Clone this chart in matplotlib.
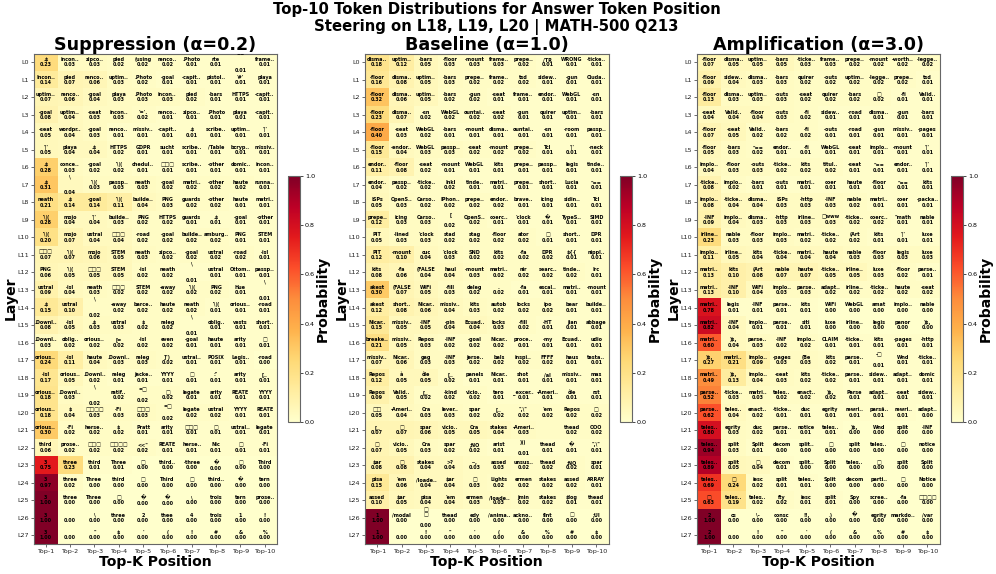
import matplotlib
matplotlib.use("Agg")
import matplotlib.pyplot as plt
import numpy as np

B = "\u25a1"
R = "\ufffd"
S = "\\\n\n"
layers = [f"L{i}" for i in range(28)]
positions = [f"Top-{i}" for i in range(1, 11)]
panel_titles = ["Suppression (\u03b1=0.2)", "Baseline (\u03b1=1.0)", "Amplification (\u03b1=3.0)"]
suptitle = "Top-10 Token Distributions for Answer Token Position\nSteering on L18, L19, L20 | MATH-500 Q213"

sup_tokens = [
 [".$","incon..","zipco..","pled","(using","renco..",".Photo","rte","~~\n\n","frame.."],
 ["Incon..","pled","renco..","uptim..",".Photo","-goal","-capit..","pistol..","'#'","playa"],
 ["uptim..","renco..","-goal","playa",".Photo","incon..","pled","-bars","HTTPS","-capit.."],
 ["-goal","uptim..","-seat","incon..","'='.","renco..","zipco..",".Photo","playa","-capit.."],
 ["-seat","wordpr..","-goal","renco..","missiv..","-capit..",".$","scribe..","uptim..","'|'"],
 ["'|'","playa",".$","HTTPS","GDPR","sucht","scribe..","/Table","bcryp..","missiv.."],
 [".$","conce..","-goal","'\\|(","chedul..",B*3,"scribe..","-other","domic..","incon.."],
 [".$",S,"'\\|(","passp..","neath","-goal","matri..","-other","haute","runna.."],
 ["neath",".$","-goal","'\\|(","builde..","PNG","guards","-other","haute","matri.."],
 ["'\\|(","mojo","'|'","builde..","PNG","HTTPS","guards",".$","-goal","-other"],
 ["'\\|(","mojo","ustral",B*3,"-road","-goal","builde..","amburg..","PNG","STEM"],
 [B*3,"'\\|(","mojo","STEM","neath","zipco..","-goal","ustral","-road","-isl"],
 ["PNG","'\\|(",B*3,"STEM","-isl","neath",S,"ustral","Ottom..","passp.."],
 ["ustral","-isl","neath",B*3,"STEM","-away","'\\|(","PNG","Hue",S],
 [".$","ustral",S,"-away","barce..","haute","neath","'\\|(","orious..","-road"],
 [".Downl..","-isl",".$","ustral","$","releg",S,"oblig..","vests","short.."],
 [".Downl..","oblig..","orious..","[=","-isl","even","-goal","haute","arity",B],
 ["orious..","-isl","haute",".Downl..","releg","]\")","ustral..","POSIX","Legis..","-road"],
 ["-isl","orious..",".Downl..","releg","jacke..","YYYY",B,":\"","arity","[.."],
 ["orious..",".Downl..",S,"ratif..","="+B+"\n",B,"legate","arity","REATE","YYYY"],
 ["orious..","$",B*4,"-Fi",B*3,"="+B+"\n","legate","ustral","YYYY","REATE"],
 ["orious..","-Fi","herse..","$","Pratt","arity",B*3,B,"ustral..","legate"],
 ["third","prose..",B*3,B*4,"<<\"","REATE","herse..","Nic",B,"-Fi"],
 ["3","three","third","Three",B,"third..","-three",R,B,"Third"],
 ["3","three","Three","third",B,"Third",B,"third..",R,"tern"],
 ["3","three","Three",B,R,R,"\\","trois","tern","prose.."],
 ["3","","\\","three","2","thee","4","trois","1","!"],
 ["3","","\"","$","'","(","!","#","&","%"],
]
sup_probs = [
 [.23,.03,.03,.02,.02,.02,.01,.01,.01,.01],
 [.14,.07,.06,.03,.02,.01,.01,.01,.01,.01],
 [.07,.06,.04,.03,.03,.03,.02,.01,.01,.01],
 [.08,.04,.03,.03,.02,.01,.01,.01,.01,.01],
 [.05,.04,.03,.01,.01,.01,.01,.01,.01,.01],
 [.05,.04,.04,.02,.01,.01,.01,.01,.01,.01],
 [.28,.03,.02,.02,.01,.01,.01,.01,.01,.01],
 [.31,.04,.03,.03,.03,.02,.02,.02,.02,.01],
 [.21,.14,.14,.11,.04,.03,.02,.02,.01,.01],
 [.28,.04,.04,.03,.02,.02,.01,.01,.01,.01],
 [.20,.07,.04,.04,.02,.02,.02,.02,.01,.01],
 [.07,.07,.06,.05,.03,.02,.02,.02,.02,.01],
 [.06,.05,.05,.05,.02,.02,.01,.01,.01,.01],
 [.09,.04,.03,.02,.02,.02,.02,.02,.01,.01],
 [.15,.10,.02,.02,.02,.02,.02,.01,.01,.01],
 [.08,.05,.03,.03,.02,.02,.01,.01,.01,.01],
 [.03,.02,.02,.02,.02,.02,.01,.01,.01,.01],
 [.24,.11,.04,.03,.03,.02,.01,.01,.01,.00],
 [.17,.05,.02,.01,.01,.01,.01,.01,.01,.01],
 [.18,.03,.02,.02,.02,.02,.01,.01,.01,.01],
 [.18,.04,.03,.03,.03,.02,.02,.02,.01,.01],
 [.30,.02,.02,.02,.01,.01,.01,.01,.01,.01],
 [.06,.02,.02,.02,.02,.01,.01,.01,.01,.01],
 [.75,.23,.01,.01,.00,.00,.00,.00,.00,.00],
 [.97,.02,.00,.00,.00,.00,.00,.00,.00,.00],
 [1.0,.00,.00,.00,.00,.00,.00,.00,.00,.00],
 [1.0,.00,.00,.00,.00,.00,.00,.00,.00,.00],
 [1.0,.00,.00,.00,.00,.00,.00,.00,.00,.00],
]

base_tokens = [
 ["disma..","uptim..","-bars","-floor","-mount","frame..","prepe..","/TR","WRONG","-ticke.."],
 ["-floor","disma..","uptim..","-bars","prepe..","frame..","tsd","sidew..","-gun","Ciuda.."],
 ["-floor","disma..","uptim..","-bars","-gun","-seat","frame..","endor..","WebGL","-sn"],
 ["-floor","disma..","-sn","WebGL","ountai..","-seat","-gun","quirer","uptim..","-bars"],
 ["-floor","-seat","WebGL","-bars","-mount","disma..","ountai..","-sn","-room","passp.."],
 ["-floor","-endor..","WebGL","passp..","-seat","-mount","prepe..","Tcl","'|'","-neck"],
 ["endor..","-floor","-seat","-mount","WebGL","kits","prepe..","passp..","legis","tinde.."],
 ["endor..","passp..","-ticke..","Inkl","tinde..","matri..","prepe..","short..","Lucia","\"=="],
 ["ISPs","OpenS..","Carso..","IPhon..","prepe..","endor..","brave..","icing","sidin..","Tcl"],
 ["prepe..","icing","Carso..","[\n","OpenS..","coerc..","'clock",R,"TypeS..","SIMD"],
 ["PIT","-lined","'clock","stad","stag","-floor","ator",B,"short..","DPR"],
 ["PIT","-mount","cuc","'clock","SND","kits","-fa","DPR","${{","nippl.."],
 ["kits","-fa","(FALSE","haul","-mount","matri..","nir","searc..","tinde..","Irc"],
 ["akest","(FALSE","WiFi","-fill","deleg",".","-fa","escal..","matri..","-mount"],
 ["akest","short..","Nicar..","missiv..","kits","autob","locks","ipo","bear","builde.."],
 ["Nicar..","missiv..","-INF","-pin","Ecuad..","locks","-fill","-HT","jian","abbage"],
 ["breake..","missiv..","Repos","-INF","-goal","Nicar..","proce..","-my","Ecuad..","udio"],
 ["missiv..","Nicar..","gag","-INF","jerse..","bals","inspi..","FFFF","haus","testa.."],
 ["Repos","\u00e0","\u00f4le","[..","panels","Nicar..","shot","/al","missiv..","mas"],
 ["Repos","Valid..","[..","-kind","vicio..","tero","_excer..","-Ameri..","\u00f4le","rst"],
 [B*2,"-Ameri..","Cra","lever..","spar","[..","\",\\\"","'em","Repos",B],
 ["[..",B,"spar","vicio..","Cra","stakes","-Ameri..",None,"thead","OOO"],
 [B,"vicio..","Cra","spar",";NO","arist",")))\n","thead",R,"\",\\\""],
 ["$ar",B,"stakes",">?","--,","assed","unsus..","thead",";NO","spar"],
 ["pisa","'em","/loade..","$ar",B,"Lights","ermen","stakes","assed","ARRAY"],
 ["assed","$ar","pisa","'em","ermen","/loade..","jmin","stakes","$log","thead"],
 ["1","/modal",B+"\n"+B+"\n","thead","edy","/anima..","ackno..","fint",B,";UI"],
 ["1","","!","\"","'","(","&","%","#","$"],
]
base_probs = [
 [.18,.12,.05,.03,.03,.03,.02,.01,.01,.01],
 [.16,.08,.05,.03,.02,.02,.02,.01,.01,.01],
 [.32,.06,.05,.02,.02,.01,.01,.01,.01,.01],
 [.23,.07,.02,.02,.02,.02,.01,.01,.01,.01],
 [.40,.03,.02,.01,.01,.01,.01,.01,.01,.01],
 [.15,.04,.03,.03,.02,.02,.02,.01,.01,.01],
 [.11,.08,.02,.01,.01,.01,.01,.01,.01,.01],
 [.04,.02,.02,.02,.01,.01,.01,.01,.01,.01],
 [.05,.03,.02,.02,.02,.02,.01,.01,.01,.01],
 [.12,.03,.03,.02,.02,.01,.01,.01,.01,.01],
 [.05,.03,.03,.02,.02,.02,.02,.01,.01,.01],
 [.12,.10,.04,.03,.02,.02,.02,.02,.01,.01],
 [.08,.06,.04,.04,.03,.02,.02,.02,.02,.01],
 [.30,.07,.05,.03,.02,.02,.01,.01,.01,.01],
 [.12,.08,.06,.04,.03,.02,.02,.02,.01,.01],
 [.15,.05,.05,.04,.04,.03,.02,.01,.01,.01],
 [.21,.05,.03,.02,.02,.02,.01,.01,.01,.01],
 [.07,.06,.03,.03,.02,.02,.02,.02,.01,.01],
 [.12,.05,.05,.02,.01,.01,.01,.01,.01,.01],
 [.09,.05,.02,.02,.02,.01,.01,.01,.01,.01],
 [.05,.04,.03,.03,.02,.02,.02,.02,.02,.02],
 [.07,.07,.06,.05,.05,.04,.03,.02,.02,.02],
 [.07,.05,.03,.02,.02,.01,.01,.01,.01,.01],
 [.08,.08,.04,.04,.03,.03,.02,.02,.02,.01],
 [.15,.06,.04,.04,.03,.02,.02,.02,.02,.01],
 [.10,.05,.04,.04,.03,.03,.02,.02,.01,.01],
 [1.0,.00,.00,.00,.00,.00,.00,.00,.00,.00],
 [1.0,.00,.00,.00,.00,.00,.00,.00,.00,.00],
]

amp_tokens = [
 ["-floor","disma..","uptim..","-bars","-ticke..","frame..","prepe..","-mount","-worth..","-legge.."],
 ["-floor","sidew..","disma..","-bars","quirer","-outs","uptim..","-legge..","prepe..","tsd"],
 ["-floor","disma..","uptim..","-outs","-seat","quirer","-bars",B,"-fi","Valid.."],
 ["-seat","Valid..","-floor","-outs","-fi","sidew..","-road","disma..","-gun","-bars"],
 ["-floor","-seat","Valid..","-bars","-fi","-outs","-road","-gun","missiv..","-pages"],
 ["-floor","-bars","\"==","endor..","-fi","WebGL","-seat","implo..","-mount","'|'"],
 ["implo..","-floor","-outs","-ticke..","kits","titul..","-seat","\"==","endor..","'|'"],
 ["-ticke..","implo..","-bars","-outs","matri..","coer","haute","-floor","\"==","kits"],
 ["implo..","-ticke..","disma..","ISPs","-http","-INF","nable","matri..","coer","-packa.."],
 ["-INF","implo..","disma..","-http","irline..",B+"www","-ticke..","coerc..","\"math","nable"],
 ["irline..","nable","-floor","implo..","matri..","-ticke..","(Art","kits","'|'","luxe"],
 ["implo..","irline..","kits","-ticke..","matri..","haute","nable","-floor","legis","luxe"],
 ["matri..","kits","(Art","nable","haute","-ticke..","irline..","luxe","-floor","parse.."],
 ["matri..","-INF","WiFi","implo..","parse..","adapt..","irline..","-ticke..","haute","-seat"],
 ["matri..","legis","-INF","parse..","kits","WiFi","WebGL","amat","implo..","nable"],
 ["matri..","-INF","implo..","parse..","siti","luxe","irline..","legis","panor",")$,"],
 ["matri..",")$,","parse..","-INF","implo..","CLAIM","-ticke..","kits","-pages","-http"],
 [")$,","matri..","implo..","-pages","(Be","kits","parse..","-"+B+"\n","Wnd","-ticke.."],
 ["matri..",")$,","implo..","-seat","kits","-ticke..","parse..","sidew..","adapt..","domic"],
 ["parse..","-ticke..","matri..","teles..","enact..",")$,","Parse","adapt..","-seat","sidew.."],
 ["parse..","teles..","enact..","-ticke..","duc","egrity","rewri..","pars\u0103..","rewri..","adapt.."],
 ["teles..","egrity","duc","parse..","notice","teles..",")$,","Wnd","split","-INF"],
 ["teles..","split","Split","decom","split..",B,"split","teles..",B,"notice"],
 ["teles..","split",B,"decom","split..","Split","teles..",B,"split","Split"],
 ["teles..",B,"iesc","split","teles..","Split","decom","parti..",B,"Notice"],
 [B,"teles..","teles..","fty","iesc","split","Spy","scree..","-fa",B*4],
 ["2","cs","\\-","consc","!!,",".)",R,"egrity","markdo..","/var"],
 ["2","","!","\"","'","(","&","%","#","$"],
]
amp_probs = [
 [.07,.05,.05,.05,.03,.03,.02,.02,.02,.02],
 [.09,.04,.03,.03,.02,.02,.02,.02,.02,.01],
 [.13,.03,.03,.03,.02,.02,.02,.02,.01,.01],
 [.04,.04,.04,.03,.02,.01,.01,.01,.01,.01],
 [.07,.05,.02,.02,.02,.01,.01,.01,.01,.01],
 [.05,.03,.02,.01,.01,.01,.01,.01,.01,.01],
 [.04,.03,.03,.02,.02,.02,.01,.01,.01,.01],
 [.08,.02,.01,.01,.01,.01,.01,.01,.01,.01],
 [.08,.04,.04,.03,.03,.03,.02,.01,.01,.01],
 [.09,.04,.03,.03,.03,.03,.02,.02,.01,.01],
 [.23,.03,.03,.03,.02,.02,.02,.01,.01,.01],
 [.11,.05,.04,.04,.04,.04,.03,.03,.03,.03],
 [.13,.10,.08,.07,.07,.05,.05,.03,.02,.01],
 [.13,.10,.04,.03,.03,.02,.02,.02,.02,.02],
 [.78,.01,.01,.01,.01,.00,.00,.00,.00,.00],
 [.82,.04,.01,.01,.01,.00,.00,.00,.00,.00],
 [.60,.04,.03,.02,.02,.01,.01,.01,.01,.01],
 [.27,.21,.09,.03,.03,.02,.01,.01,.01,.01],
 [.49,.13,.04,.03,.02,.02,.01,.01,.01,.01],
 [.52,.03,.03,.02,.02,.02,.01,.01,.01,.01],
 [.62,.04,.02,.01,.01,.01,.01,.01,.01,.00],
 [.80,.03,.02,.01,.01,.01,.00,.00,.00,.00],
 [.94,.03,.01,.00,.00,.00,.00,.00,.00,.00],
 [.89,.05,.04,.01,.00,.00,.00,.00,.00,.00],
 [.69,.24,.02,.01,.01,.00,.00,.00,.00,.00],
 [.63,.19,.02,.02,.01,.01,.00,.00,.00,.00],
 [1.0,.00,.00,.00,.00,.00,.00,.00,.00,.00],
 [1.0,.00,.00,.00,.00,.00,.00,.00,.00,.00],
]

W, H = 996, 574
def frame(x0, y0, x1, y1):
    return [x0 / W, 1 - y1 / H, (x1 - x0) / W, (y1 - y0) / H]

fig = plt.figure(figsize=(9.96, 5.74), dpi=100)
fig.suptitle(suptitle, fontsize=10.75, fontweight="bold", x=0.4985, y=0.997, linespacing=1.2)

panels = [(sup_tokens, sup_probs), (base_tokens, base_probs), (amp_tokens, amp_probs)]
ax_boxes = [(33.5, 53.5, 277, 544), (365, 53.5, 608.5, 544), (697, 53.5, 939.5, 544)]
cb_boxes = [(287.5, 176, 300, 422), (619.5, 176, 632, 422), (951, 176, 963, 422)]

for (tokens, probs), title, box, cbox in zip(panels, panel_titles, ax_boxes, cb_boxes):
    ax = fig.add_axes(frame(*box))
    p = np.array(probs)
    im = ax.imshow(p, cmap="YlOrRd", vmin=0, vmax=1, aspect="auto", interpolation="nearest")
    for r in range(p.shape[0]):
        for c in range(p.shape[1]):
            if tokens[r][c] is None:
                continue
            ax.text(c, r, f"{tokens[r][c]}\n{p[r, c]:.2f}", ha="center", va="center",
                    fontsize=3.55, fontweight="bold", color="black", parse_math=False,
                    linespacing=1.1)
    ax.set_xticks(range(10), positions, fontsize=4.6)
    ax.set_yticks(range(28), layers, fontsize=4.6)
    ax.tick_params(length=2, width=0.5, pad=1.5, color="#333333", labelcolor="#222222")
    ax.set_title(title, fontsize=12.6, fontweight="bold", pad=1.5)
    ax.set_xlabel("Top-K Position", fontsize=10.1, fontweight="bold", labelpad=0.5)
    ax.set_ylabel("Layer", fontsize=10.1, fontweight="bold", labelpad=-0.5)
    for s in ax.spines.values():
        s.set_linewidth(0.8)
        s.set_color("#666666")
    cax = fig.add_axes(frame(*cbox))
    cb = fig.colorbar(im, cax=cax)
    cb.set_label("Probability", fontsize=10.1, fontweight="bold", labelpad=0.5)
    cb.ax.tick_params(labelsize=4.6, length=2, width=0.5, pad=1.5)
    cb.outline.set_linewidth(0.8)
    cb.outline.set_edgecolor("#666666")

fig.savefig("out.png", dpi=100)
